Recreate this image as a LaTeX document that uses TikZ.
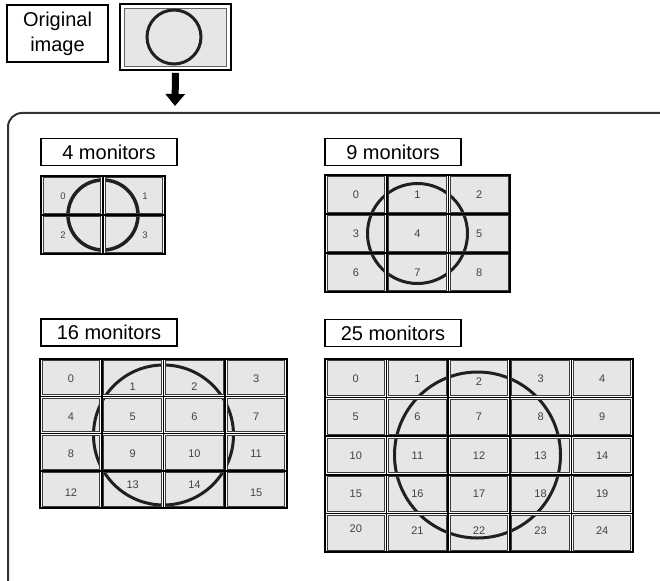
\documentclass[tikz,border=0pt]{standalone}
\usepackage{fontspec}
\setmainfont{Liberation Sans}
\usetikzlibrary{arrows.meta}
\definecolor{cellgray}{HTML}{E6E6E6}
\definecolor{ink}{HTML}{231F20}
\definecolor{bezel}{HTML}{3C3C3C}
\definecolor{framec}{HTML}{333333}
\tikzset{
  lbl/.style={draw=black, line width=1.3, minimum width=136, minimum height=27, inner sep=0pt, font=\fontsize{20}{24}\selectfont},
  cell/.style={fill=cellgray, inner sep=0pt, draw=none},
  cellline/.style={draw=bezel, line width=0.9},
  num/.style={font=\fontsize{11}{13}\selectfont, text=ink!85, inner sep=0pt},
  smallnum/.style={font=\fontsize{9.5}{11}\selectfont, text=ink!85, inner sep=0pt},
  ring/.style={draw=ink},
}
\newcommand\mgrid[7]{%
  \fill[black] ({#2-1.2},{#3-1.2}) rectangle ({#2+#4*#6+1.2},{#3+#5*#7+1.2});
  \foreach \i in {1,...,#4}{\foreach \j in {1,...,#5}{%
    \pgfmathtruncatemacro\n{(\j-1)*#4+\i-1}%
    \fill[white] ({#2+(\i-1)*#6+0.8},{#3+(\j-1)*#7+0.8}) rectangle ({#2+\i*#6-0.8},{#3+\j*#7-0.8});
    \node[cell, minimum width={#6-4.6}, minimum height={#7-4.2}] (#1-\n) at ({#2+(\i-0.5)*#6},{#3+(\j-0.5)*#7}) {};
  }}}
\newcommand\mring[6]{%
  \foreach \n in {0,...,#2}{%
    \begin{scope}
      \clip (#1-\n.south west) rectangle (#1-\n.north east);
      \draw[ring, line width=#6] (#3,#4) circle[radius=#5];
    \end{scope}}
  \foreach \n in {0,...,#2}{\draw[cellline] (#1-\n.south west) rectangle (#1-\n.north east);}
}
\begin{document}
\begin{tikzpicture}[x=1pt,y=-1pt]
\useasboundingbox (0,0) rectangle (660,580);
\fill[white] (0,0) rectangle (660,580);

% original image
\node[draw=black, line width=1.3, minimum width=101, minimum height=57, inner sep=0pt, align=center,
      font=\fontsize{20}{25}\selectfont] (orig) at (57.5,33.5) {Original\\image};
\node[draw=black, line width=1.6, fill=white, minimum width=111, minimum height=66, inner sep=0pt] (icon) at (175.5,37) {};
\node[fill=cellgray, draw=bezel!80, line width=0.8, minimum width=102, minimum height=58, inner sep=0pt] (iconin) at (icon.center) {};
\draw[ring, line width=3] (174,37) circle[radius=27];

% frame
\draw[draw=framec, line width=2, rounded corners=14] (8,113) rectangle (700,640);
\coordinate (frametop) at (175,106);
\draw[line width=7, -{Triangle[width=19pt,length=12pt]}] ([yshift=-2pt]icon.south) -- (frametop);

% labels
\node[lbl] (l4) at (109,152) {4 monitors};
\node[lbl] (l9) at (393,152) {9 monitors};
\node[lbl] (l16) at (109,332.5) {16 monitors};
\node[lbl] (l25) at (393,333) {25 monitors};

% 4 monitors
\mgrid{ga}{41}{176}{2}{2}{62}{39}
\mring{ga}{3}{103}{215}{35}{3.5}
\node[smallnum] (ga-t0) at ([xshift=-9pt,yshift=-1pt]ga-0) {0};
\node[smallnum] (ga-t1) at ([xshift=11pt,yshift=-1pt]ga-1) {1};
\node[smallnum] (ga-t2) at ([xshift=-9pt,yshift=-1pt]ga-2) {2};
\node[smallnum] (ga-t3) at ([xshift=11pt,yshift=-1pt]ga-3) {3};

% 9 monitors
\mgrid{gb}{325}{175}{3}{3}{61.7}{39}
\mring{gb}{8}{417.5}{233.5}{50}{3}
\foreach \n in {0,...,8}{\node[num] (gb-t\n) at (gb-\n) {\n};}

% 16 monitors
\mgrid{gc}{40}{359}{4}{4}{61.75}{37.3}
\mring{gc}{15}{163.5}{435}{70}{3}
\foreach \n in {0,3,4,5,6,7,8,9,10,11}{\node[num] (gc-t\n) at ([yshift=-1.5pt]gc-\n) {\n};}
\node[num] (gc-t1) at ([yshift=-9pt]gc-1) {1};
\node[num] (gc-t2) at ([yshift=-9pt]gc-2) {2};
\node[num] (gc-t12) at ([yshift=-3.5pt]gc-12) {12};
\node[num] (gc-t13) at ([yshift=4.5pt]gc-13) {13};
\node[num] (gc-t14) at ([yshift=4.5pt]gc-14) {14};
\node[num] (gc-t15) at ([yshift=-3.5pt]gc-15) {15};

% 25 monitors
\mgrid{gd}{325}{359}{5}{5}{61.6}{38.6}
\mring{gd}{24}{477.5}{455}{83}{3}
\foreach \n in {0,1,3,4,5,...,19}{\node[num] (gd-t\n) at (gd-\n) {\n};}
\node[num] (gd-t2) at ([yshift=-3pt]gd-2) {2};
\node[num] (gd-t20) at ([yshift=4pt]gd-20) {20};
\foreach \n in {21,...,24}{\node[num] (gd-t\n) at ([yshift=2pt]gd-\n) {\n};}
\end{tikzpicture}
\end{document}
